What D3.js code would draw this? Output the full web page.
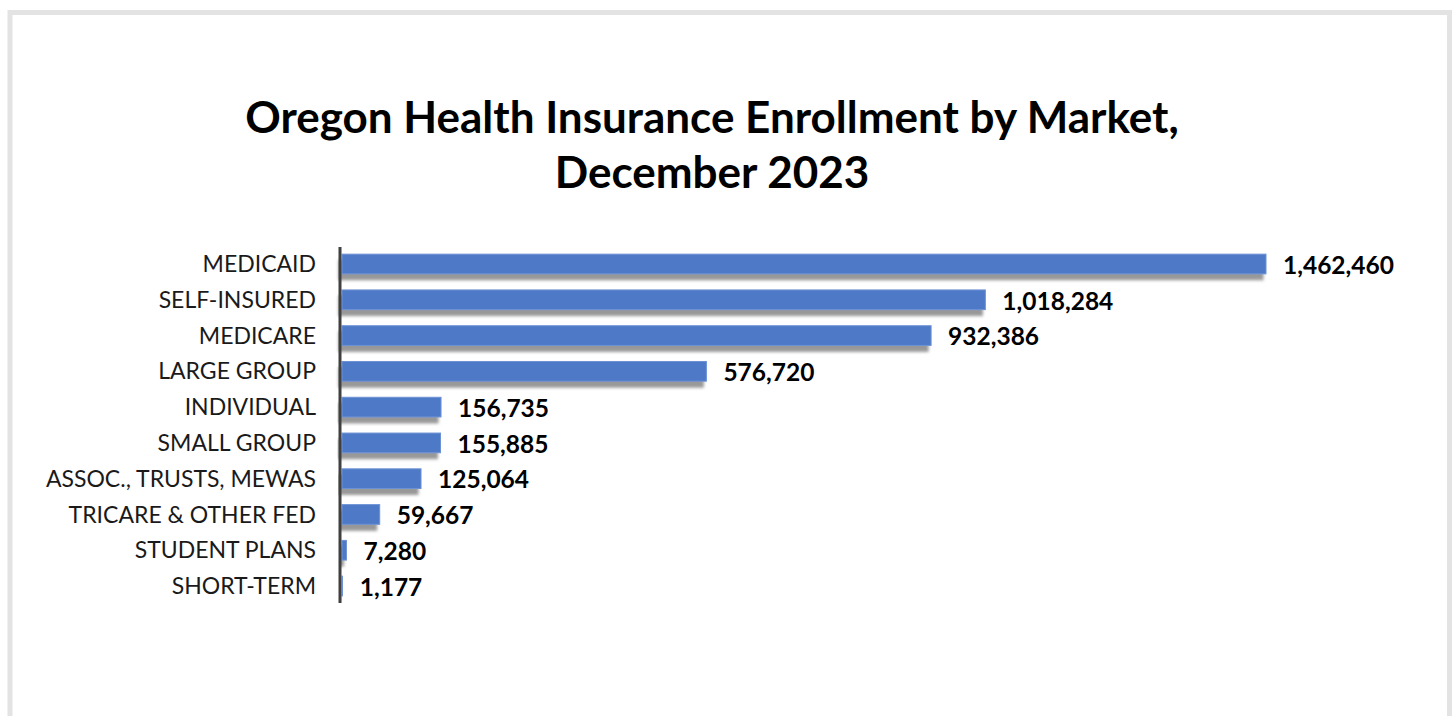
<!DOCTYPE html>
<html>
<head>
<meta charset="utf-8">
<script src="https://cdn.jsdelivr.net/npm/d3@7"></script>
<style>
  html, body { margin: 0; padding: 0; background: #ffffff; }
  svg { display: block; }
</style>
</head>
<body>
<svg id="chart" width="1456" height="716"></svg>
<script>
// Enrollment by market, December 2023
const categories = [
  "MEDICAID", "SELF-INSURED", "MEDICARE", "LARGE GROUP", "INDIVIDUAL",
  "SMALL GROUP", "ASSOC., TRUSTS, MEWAS", "TRICARE & OTHER FED",
  "STUDENT PLANS", "SHORT-TERM"
];
const enrollment = [
  1462460, 1018284, 932386, 576720, 156735,
  155885, 125064, 59667, 7280, 1177
];
const titleLines = ["Oregon Health Insurance Enrollment by Market,", "December 2023"];

const data = categories.map((c, i) => ({ name: c, value: enrollment[i] }));

const svg = d3.select("#chart");
const FONT = "Lato, 'Open Sans', 'Noto Sans', sans-serif";

// outer frame
svg.append("rect")
  .attr("x", 10).attr("y", 12.5)
  .attr("width", 1439.5).attr("height", 760)
  .attr("fill", "#ffffff")
  .attr("stroke", "#e3e3e3")
  .attr("stroke-width", 5);

// title
const title = svg.append("text")
  .attr("text-anchor", "middle")
  .attr("font-family", FONT)
  .attr("font-weight", "bold")
  .attr("font-size", 44)
  .attr("fill", "#000000");
title.selectAll("tspan").data(titleLines).join("tspan")
  .attr("x", 712)
  .attr("y", (d, i) => 133 + i * 55)
  .text(d => d);

// plot geometry
const margin = { left: 342, top: 247, bottom: 603 };
const x = d3.scaleLinear()
  .domain([0, enrollment[0]])
  .range([margin.left, 1266]);
const y = d3.scaleBand()
  .domain(categories)
  .range([margin.top, margin.bottom])
  .paddingInner(0.45)
  .paddingOuter(0.2);

// soft shadow under each bar
const defs = svg.append("defs");
const f = defs.append("filter").attr("id", "barShadow")
  .attr("x", "-5%").attr("y", "-50%").attr("width", "110%").attr("height", "250%");
f.append("feDropShadow")
  .attr("dx", -3).attr("dy", 6)
  .attr("stdDeviation", 1.8)
  .attr("flood-color", "#7f7f7f")
  .attr("flood-opacity", 0.8);

svg.append("g").selectAll("rect").data(data).join("rect")
  .attr("x", x(0))
  .attr("y", d => y(d.name))
  .attr("width", d => Math.max(0, x(d.value) - x(0)))
  .attr("height", y.bandwidth())
  .attr("fill", "#4e79c6")
  .attr("stroke", "#6d93d6")
  .attr("stroke-width", 1)
  .attr("filter", "url(#barShadow)");

// category axis
const yAxis = d3.axisLeft(y).tickSize(0).tickPadding(24);
const ga = svg.append("g")
  .attr("transform", `translate(${margin.left - 2},0)`)
  .call(yAxis);
ga.select(".domain")
  .attr("stroke", "#404040")
  .attr("stroke-width", 3)
  .attr("d", `M0,${margin.top}V${margin.bottom}`);
ga.selectAll(".tick text")
  .attr("font-family", FONT)
  .attr("font-size", 23)
  .attr("dy", "0.35em")
  .attr("fill", "#1a1a1a");

// value labels
const fmt = d3.format(",");
svg.append("g").selectAll("text").data(data).join("text")
  .attr("x", d => x(d.value) + 17)
  .attr("y", d => y(d.name) + y.bandwidth() / 2)
  .attr("dy", "0.4em")
  .attr("font-family", FONT)
  .attr("font-weight", "bold")
  .attr("font-size", 24.5)
  .attr("fill", "#000000")
  .text(d => fmt(d.value));
</script>
</body>
</html>
